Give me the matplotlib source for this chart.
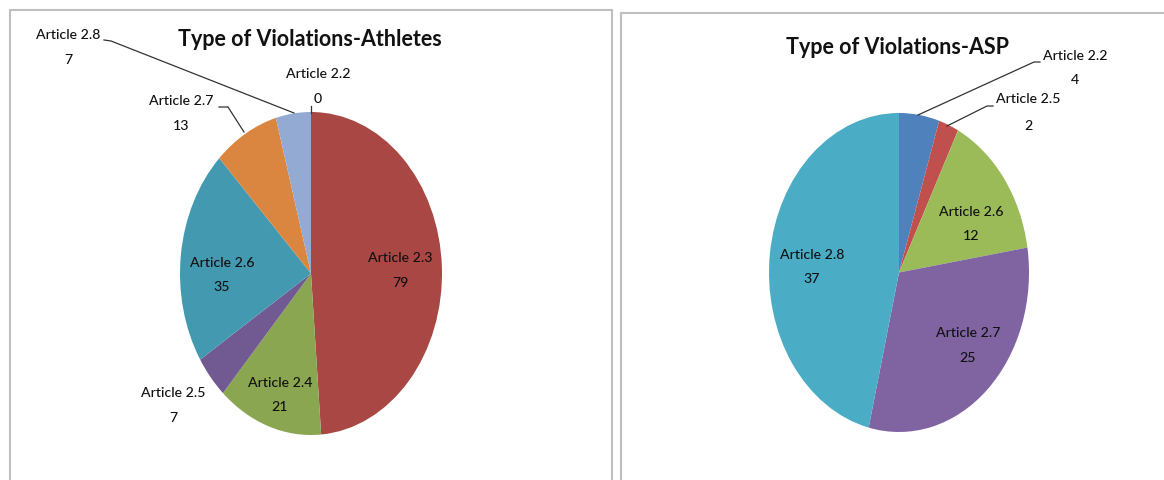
import matplotlib.pyplot as plt
from matplotlib.patches import Rectangle
from matplotlib.lines import Line2D

# data
ath_labels = ['Article 2.2', 'Article 2.3', 'Article 2.4', 'Article 2.5',
              'Article 2.6', 'Article 2.7', 'Article 2.8']
ath_values = [0, 79, 21, 7, 35, 13, 7]
ath_colors = ['#4F81BD', '#A84744', '#8BA650', '#705A91',
              '#4399B0', '#DA8640', '#93AAD2']

asp_labels = ['Article 2.2', 'Article 2.5', 'Article 2.6', 'Article 2.7',
              'Article 2.8']
asp_values = [4, 2, 12, 25, 37]
asp_colors = ['#4F81BD', '#C0504D', '#9BBB59', '#8064A2', '#4BACC6']

W, H = 1164, 480
plt.rcParams['font.family'] = ['Lato', 'DejaVu Sans']

fig = plt.figure(figsize=(W / 100, H / 100), dpi=100)


def fx(x):
    return x / W


def fy(y):
    return 1 - y / H


# panel borders
fig.patches.append(Rectangle((fx(10), fy(490)), fx(602), 480 / H,
                             transform=fig.transFigure, fill=False,
                             edgecolor='#BFBFBF', linewidth=1.5))
fig.patches.append(Rectangle((fx(621), fy(490)), fx(560), 477 / H,
                             transform=fig.transFigure, fill=False,
                             edgecolor='#BFBFBF', linewidth=1.5))


def draw_pie(box, values, colors):
    x0, y0, x1, y1 = box
    ax = fig.add_axes([fx(x0), fy(y1), fx(x1 - x0), (y1 - y0) / H])
    ax.pie(values, colors=colors, startangle=90, counterclock=False,
           radius=1, wedgeprops=dict(linewidth=0))
    ax.set_aspect('auto')
    ax.set_xlim(-1, 1)
    ax.set_ylim(-1, 1)
    ax.axis('off')
    return ax


draw_pie((180, 112, 442, 435), ath_values, ath_colors)
draw_pie((769, 113, 1029, 432), asp_values, asp_colors)

# titles
fig.text(fx(310), fy(40), 'Type of Violations-Athletes', ha='center',
         va='center', fontsize=15.5, fontweight='bold', color='#111111')
fig.text(fx(898), fy(47), 'Type of Violations-ASP', ha='center',
         va='center', fontsize=15.5, fontweight='bold', color='#111111')

# label positions (pixel centres of the two lines)
ath_pos = [(318, 74, 99), (400, 258, 283), (280, 383, 407), (173, 393, 418),
           (222, 263, 287), (181, 101, 126), (68, 35, 60)]
asp_pos = [(1075, 56, 80), (1028, 99, 126), (971, 212, 236),
           (968, 333, 358), (812, 255, 279)]

lab_kw = dict(ha='center', va='center', fontsize=10.2, fontweight='medium',
              color='#111111')

for lab, val, (x, y1, y2) in zip(ath_labels, ath_values, ath_pos):
    fig.text(fx(x), fy(y1), lab, **lab_kw)
    fig.text(fx(x), fy(y2), str(val), **lab_kw)

for lab, val, (x, y1, y2) in zip(asp_labels, asp_values, asp_pos):
    fig.text(fx(x), fy(y1), lab, **lab_kw)
    fig.text(fx(x), fy(y2), str(val), **lab_kw)

# leader lines
leaders = [
    [(104, 40), (111, 41), (294, 113)],
    [(219, 107), (228, 107), (244, 132)],
    [(311, 106), (311, 113)],
    [(1040, 62), (1034, 62), (918, 115)],
    [(993, 106), (987, 106), (947, 126)],
]
for pts in leaders:
    xs = [fx(p[0]) for p in pts]
    ys = [fy(p[1]) for p in pts]
    fig.lines.append(Line2D(xs, ys, transform=fig.transFigure,
                            color='#333333', linewidth=0.9))

fig.savefig('out.png', dpi=100, facecolor='white')
